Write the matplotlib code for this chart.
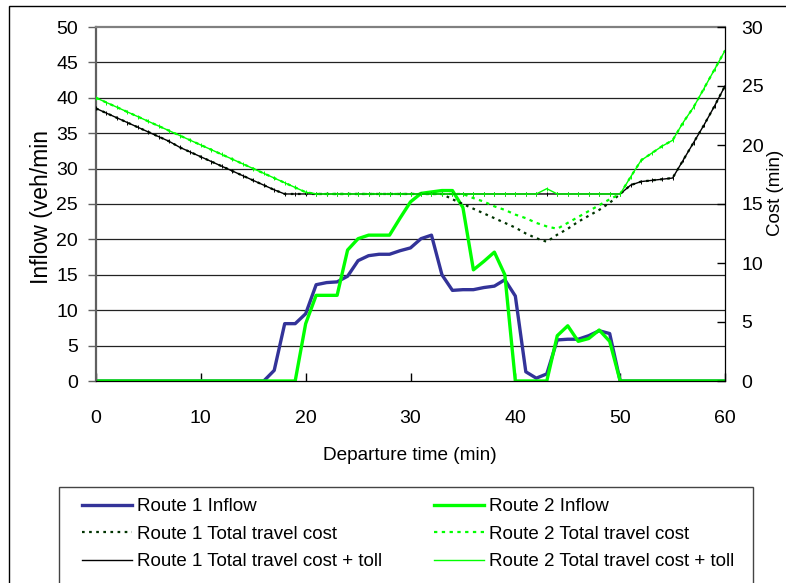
import matplotlib as mpl
import matplotlib.pyplot as plt
from matplotlib.patches import Rectangle
from matplotlib.lines import Line2D

mpl.use('Agg')
plt.rcParams['font.family'] = ['Liberation Sans', 'DejaVu Sans']

#~~~~~~~~~~ Data ~~~~~~~~~~~#
departureTime = list(range(0, 61))

route1Inflow = [0]*17 + [1.5, 8.1, 8.1, 9.5, 13.6, 13.9, 14.0, 14.8, 17.0, 17.7,
                         17.9, 17.9, 18.4, 18.8, 20.1, 20.6, 15.0, 12.8, 12.9, 12.9,
                         13.2, 13.4, 14.3, 12.0, 1.3, 0.4, 1.0, 5.8, 5.9, 5.9,
                         6.4, 7.1, 6.7, 0] + [0]*10

route2Inflow = [0]*20 + [8.1, 12.1, 12.1, 12.1, 18.5, 20.1, 20.6, 20.6, 20.6, 23.0,
                         25.3, 26.5, 26.7, 26.9, 26.9, 24.5, 15.7, 16.9, 18.2, 15.0,
                         0, 0, 0, 0, 6.4, 7.8, 5.6, 6.0, 7.2, 5.6,
                         0] + [0]*10

route1CostToll = [23.1, 22.7, 22.3, 21.9, 21.5, 21.1, 20.7, 20.3, 19.8, 19.4,
                  19.0, 18.6, 18.2, 17.8, 17.4, 17.0, 16.6, 16.2] + [15.85]*33 + \
                 [16.6, 16.9, 17.0, 17.1, 17.2, 18.7, 20.2, 21.7, 23.3, 25.0]

route1Cost = route1CostToll[:34] + [15.4, 15.0, 14.6, 14.2, 13.8, 13.4, 13.0, 12.5, 12.1, 11.8,
                                    12.4, 12.9, 13.5, 14.0, 14.5, 15.1] + route1CostToll[50:]

route2CostToll = [24.0, 23.6, 23.2, 22.8, 22.4, 22.0, 21.6, 21.2, 20.8, 20.4,
                  20.0, 19.6, 19.2, 18.8, 18.4, 18.0, 17.6, 17.2, 16.8, 16.4,
                  16.0] + [15.85]*22 + [16.3] + [15.85]*7 + \
                 [17.3, 18.7, 19.3, 19.9, 20.4, 21.9, 23.2, 24.8, 26.4, 28.0]

route2Cost = route2CostToll[:36] + [15.5, 15.2, 14.8, 14.5, 14.1, 13.8, 13.4, 13.1, 12.9,
                                    13.4, 13.9, 14.4, 14.9, 15.4] + route2CostToll[50:]

xTicks = [0, 10, 20, 30, 40, 50, 60]
inflowTicks = [0, 5, 10, 15, 20, 25, 30, 35, 40, 45, 50]
costTicks = [0, 5, 10, 15, 20, 25, 30]

navy = '#333399'
green = '#00ff00'
darkGreen = '#003300'
tickSize = 14

fig = plt.figure(figsize=(7.86, 5.83), dpi=100)
ax = fig.add_axes([96/786, 1 - 381/583, (725 - 96)/786, (381 - 27)/583])
ax2 = ax.twinx()

for y in inflowTicks[1:-1]:
    ax.axhline(y, color='#222222', linewidth=0.9, zorder=0)

r1Style = dict(color=navy, linewidth=2.4)
r2Style = dict(color=green, linewidth=2.4)
c1Style = dict(color=darkGreen, linewidth=1.6, linestyle=(0, (1.2, 2)))
c2Style = dict(color=green, linewidth=1.6, linestyle=(0, (1.5, 2)))
t1Style = dict(color='black', linewidth=1.0)
t2Style = dict(color=green, linewidth=1.0)

ax.plot(departureTime, route1Inflow, **r1Style)
ax.plot(departureTime, route2Inflow, **r2Style)
ax2.plot(departureTime, route1Cost, **c1Style)
ax2.plot(departureTime, route2Cost, **c2Style)
ax2.plot(departureTime, route1CostToll, marker='|', markersize=2.5, markeredgewidth=0.7, **t1Style)
ax2.plot(departureTime, route2CostToll, marker='|', markersize=2.5, markeredgewidth=0.7, **t2Style)

ax.set_xlim(0, 60)
ax.set_ylim(0, 50)
ax2.set_ylim(0, 30)
ax.set_xticks(xTicks)
ax.set_yticks(inflowTicks)
ax2.set_yticks(costTicks)

ax.tick_params(axis='y', direction='out', length=6, width=1, color='#606060',
               labelsize=tickSize, pad=7)
ax.tick_params(axis='x', direction='in', length=6, width=1, labelsize=tickSize, pad=21)
ax2.tick_params(axis='y', direction='in', length=6, width=1, labelsize=tickSize, pad=12)

ax.spines['left'].set_color('#606060')
ax.spines['left'].set_linewidth(1.6)
ax.spines['top'].set_color('#808080')
ax.spines['top'].set_linewidth(1.6)
ax.spines['bottom'].set_linewidth(0.9)
ax2.spines['right'].set_linewidth(0.9)
for s in ['left', 'top', 'bottom']:
    ax2.spines[s].set_visible(False)
ax.spines['right'].set_visible(False)

fig.text(42/786, 1 - 207/583, 'Inflow (veh/min', rotation=90, ha='center', va='center',
         fontsize=16.5)
fig.text(776/786, 1 - 193/583, 'Cost (min)', rotation=90, ha='center', va='center',
         fontsize=13.5)
fig.text(410/786, 1 - 455/583, 'Departure time (min)', ha='center', va='center',
         fontsize=13.7)

# outer frame and legend box, both run off the image edge
fig.add_artist(Rectangle((9/786, -0.1), 1.0, 1 - 6/583 + 0.1, transform=fig.transFigure,
                         fill=False, edgecolor='black', linewidth=1))
fig.add_artist(Rectangle((59/786, -0.1), (753 - 59)/786, (583 - 487)/583 + 0.1,
                         transform=fig.transFigure, fill=False, edgecolor='#444444', linewidth=1))

handles = [Line2D([], [], **s) for s in [r1Style, c1Style, t1Style, r2Style, c2Style, t2Style]]
labels = ['Route 1 Inflow', 'Route 1 Total travel cost', 'Route 1 Total travel cost + toll',
          'Route 2 Inflow', 'Route 2 Total travel cost', 'Route 2 Total travel cost + toll']
fig.legend(handles, labels, ncol=2, loc='upper left',
           bbox_to_anchor=(82/786, 1 - 498/583), frameon=False, borderpad=0,
           borderaxespad=0, handlelength=2.67, handletextpad=0.27, columnspacing=2.77,
           labelspacing=0.56, fontsize=13.5)

fig.savefig('out.png', dpi=100)
